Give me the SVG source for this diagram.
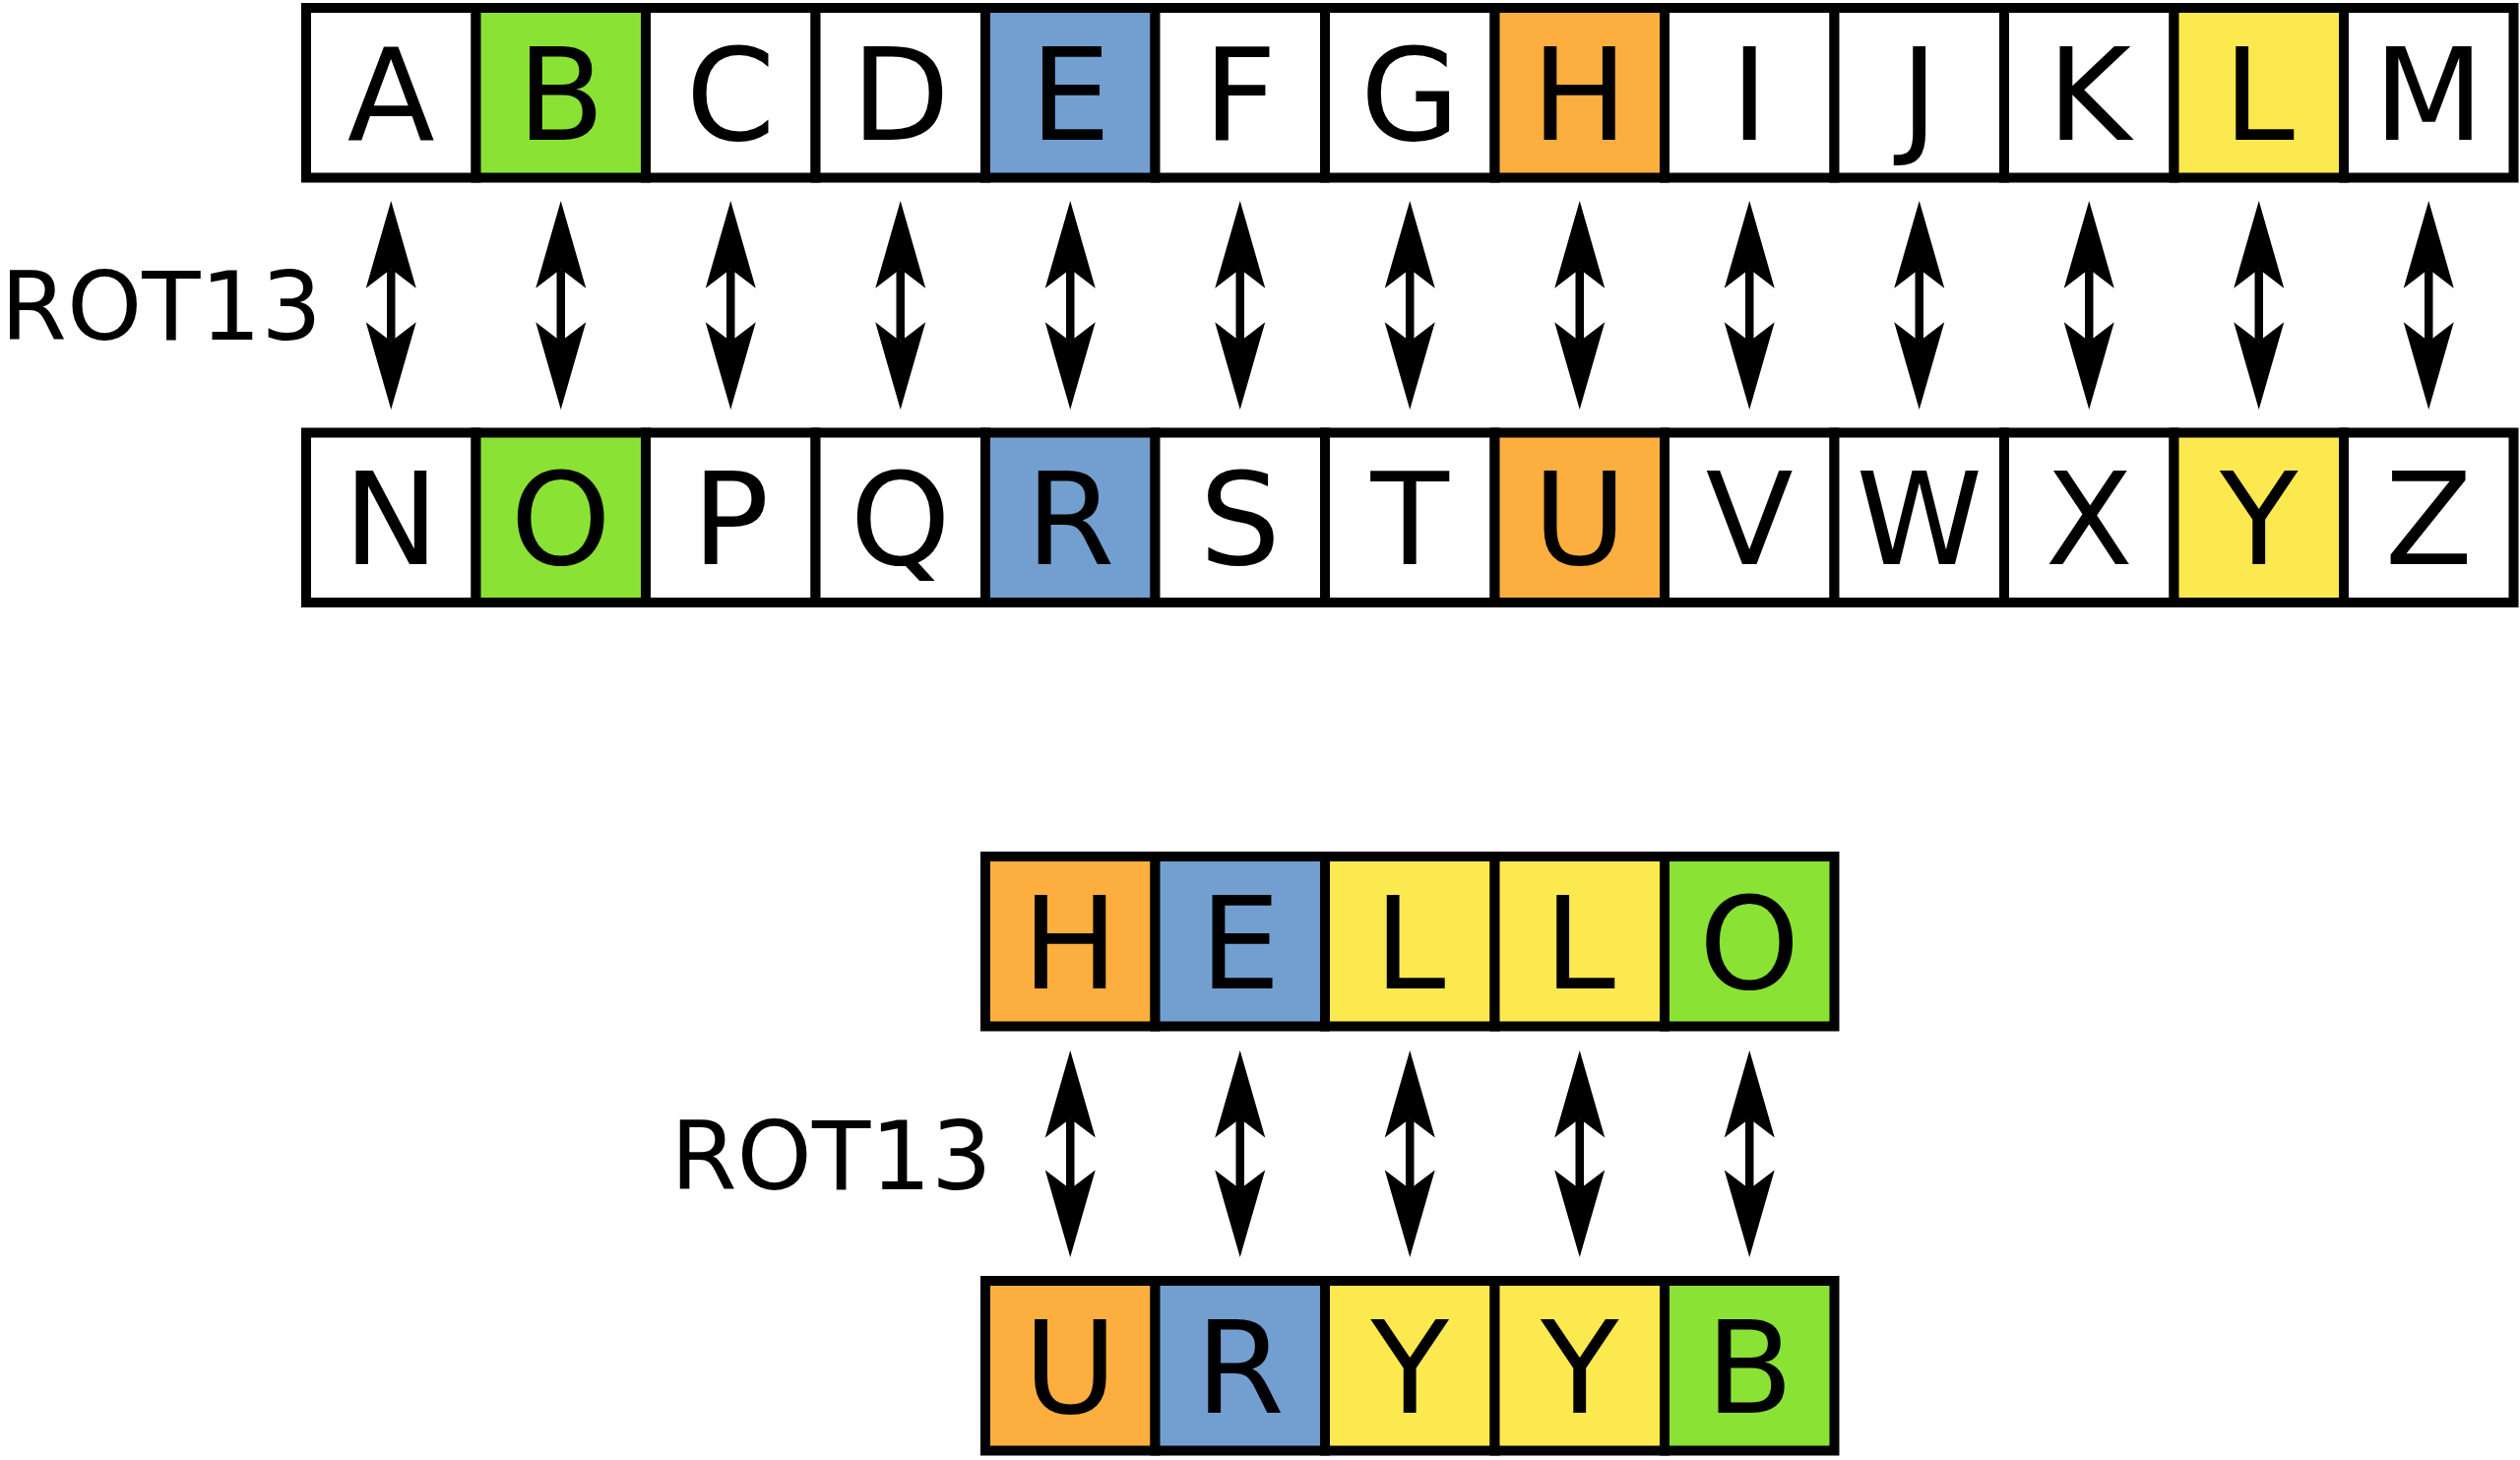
<svg xmlns="http://www.w3.org/2000/svg" width="2560" height="1483" viewBox="0 0 2560 1483">
<style>
.c{stroke:#000;stroke-width:10}
.w{fill:#fff}.g{fill:#8ae234}.b{fill:#729fcf}.o{fill:#fcaf3e}.y{fill:#fce94f}
.t{font-family:"DejaVu Sans","Liberation Sans",sans-serif;font-size:130px;text-anchor:middle;fill:#000}
.l{font-family:"DejaVu Sans","Liberation Sans",sans-serif;font-size:97px;text-anchor:start;fill:#000}
.a{stroke:#000;stroke-width:8.5;fill:none;marker-start:url(#head);marker-end:url(#head)}
</style>
<defs>
<marker id="head" markerUnits="userSpaceOnUse" viewBox="-20 -26 90 52" markerWidth="90" markerHeight="52" refX="0" refY="0" orient="auto-start-reverse" overflow="visible">
<path d="M69.3,0 L-19.4,25.5 L0,0 L-19.4,-25.5 Z" fill="#000"/>
</marker>
</defs>
<rect width="2560" height="1483" fill="#fff"/>
<g id="top-row">
<g id="cell-A"><rect class="c w" x="311" y="8" width="172.5" height="172.5"/><text class="t" x="397.25" y="141.6">A</text></g>
<g id="cell-B"><rect class="c g" x="483.5" y="8" width="172.5" height="172.5"/><text class="t" x="569.75" y="141.6">B</text></g>
<g id="cell-C"><rect class="c w" x="656" y="8" width="172.5" height="172.5"/><text class="t" x="742.25" y="141.6">C</text></g>
<g id="cell-D"><rect class="c w" x="828.5" y="8" width="172.5" height="172.5"/><text class="t" x="914.75" y="141.6">D</text></g>
<g id="cell-E"><rect class="c b" x="1001" y="8" width="172.5" height="172.5"/><text class="t" x="1087.25" y="141.6">E</text></g>
<g id="cell-F"><rect class="c w" x="1173.5" y="8" width="172.5" height="172.5"/><text class="t" x="1259.75" y="141.6">F</text></g>
<g id="cell-G"><rect class="c w" x="1346" y="8" width="172.5" height="172.5"/><text class="t" x="1432.25" y="141.6">G</text></g>
<g id="cell-H"><rect class="c o" x="1518.5" y="8" width="172.5" height="172.5"/><text class="t" x="1604.75" y="141.6">H</text></g>
<g id="cell-I"><rect class="c w" x="1691" y="8" width="172.5" height="172.5"/><text class="t" x="1777.25" y="141.6">I</text></g>
<g id="cell-J"><rect class="c w" x="1863.5" y="8" width="172.5" height="172.5"/><text class="t" x="1949.75" y="141.6">J</text></g>
<g id="cell-K"><rect class="c w" x="2036" y="8" width="172.5" height="172.5"/><text class="t" x="2122.25" y="141.6">K</text></g>
<g id="cell-L"><rect class="c y" x="2208.5" y="8" width="172.5" height="172.5"/><text class="t" x="2294.75" y="141.6">L</text></g>
<g id="cell-M"><rect class="c w" x="2381" y="8" width="172.5" height="172.5"/><text class="t" x="2467.25" y="141.6">M</text></g>
</g>
<g id="bottom-row">
<g id="cell-N"><rect class="c w" x="311" y="439.5" width="172.5" height="172.5"/><text class="t" x="397.25" y="573.2">N</text></g>
<g id="cell-O"><rect class="c g" x="483.5" y="439.5" width="172.5" height="172.5"/><text class="t" x="569.75" y="573.2">O</text></g>
<g id="cell-P"><rect class="c w" x="656" y="439.5" width="172.5" height="172.5"/><text class="t" x="742.25" y="573.2">P</text></g>
<g id="cell-Q"><rect class="c w" x="828.5" y="439.5" width="172.5" height="172.5"/><text class="t" x="914.75" y="573.2">Q</text></g>
<g id="cell-R"><rect class="c b" x="1001" y="439.5" width="172.5" height="172.5"/><text class="t" x="1087.25" y="573.2">R</text></g>
<g id="cell-S"><rect class="c w" x="1173.5" y="439.5" width="172.5" height="172.5"/><text class="t" x="1259.75" y="573.2">S</text></g>
<g id="cell-T"><rect class="c w" x="1346" y="439.5" width="172.5" height="172.5"/><text class="t" x="1432.25" y="573.2">T</text></g>
<g id="cell-U"><rect class="c o" x="1518.5" y="439.5" width="172.5" height="172.5"/><text class="t" x="1604.75" y="573.2">U</text></g>
<g id="cell-V"><rect class="c w" x="1691" y="439.5" width="172.5" height="172.5"/><text class="t" x="1777.25" y="573.2">V</text></g>
<g id="cell-W"><rect class="c w" x="1863.5" y="439.5" width="172.5" height="172.5"/><text class="t" x="1949.75" y="573.2">W</text></g>
<g id="cell-X"><rect class="c w" x="2036" y="439.5" width="172.5" height="172.5"/><text class="t" x="2122.25" y="573.2">X</text></g>
<g id="cell-Y"><rect class="c y" x="2208.5" y="439.5" width="172.5" height="172.5"/><text class="t" x="2294.75" y="573.2">Y</text></g>
<g id="cell-Z"><rect class="c w" x="2381" y="439.5" width="172.5" height="172.5"/><text class="t" x="2467.25" y="573.2">Z</text></g>
</g>
<g id="hello-row">
<g id="hello-H"><rect class="c o" x="1001" y="870" width="172.5" height="172.5"/><text class="t" x="1087.25" y="1003.6">H</text></g>
<g id="hello-E"><rect class="c b" x="1173.5" y="870" width="172.5" height="172.5"/><text class="t" x="1259.75" y="1003.6">E</text></g>
<g id="hello-L1"><rect class="c y" x="1346" y="870" width="172.5" height="172.5"/><text class="t" x="1432.25" y="1003.6">L</text></g>
<g id="hello-L2"><rect class="c y" x="1518.5" y="870" width="172.5" height="172.5"/><text class="t" x="1604.75" y="1003.6">L</text></g>
<g id="hello-O"><rect class="c g" x="1691" y="870" width="172.5" height="172.5"/><text class="t" x="1777.25" y="1003.6">O</text></g>
</g>
<g id="uryyb-row">
<g id="uryyb-U"><rect class="c o" x="1001" y="1301" width="172.5" height="172.5"/><text class="t" x="1087.25" y="1434.6">U</text></g>
<g id="uryyb-R"><rect class="c b" x="1173.5" y="1301" width="172.5" height="172.5"/><text class="t" x="1259.75" y="1434.6">R</text></g>
<g id="uryyb-Y1"><rect class="c y" x="1346" y="1301" width="172.5" height="172.5"/><text class="t" x="1432.25" y="1434.6">Y</text></g>
<g id="uryyb-Y2"><rect class="c y" x="1518.5" y="1301" width="172.5" height="172.5"/><text class="t" x="1604.75" y="1434.6">Y</text></g>
<g id="uryyb-B"><rect class="c g" x="1691" y="1301" width="172.5" height="172.5"/><text class="t" x="1777.25" y="1434.6">B</text></g>
</g>
<g id="labels">
<text id="label-rot13-top" class="l" x="0.5" y="345">ROT13</text>
<text id="label-rot13-bottom" class="l" x="681.2" y="1207.5">ROT13</text>
</g>
<g id="connectors">
<line class="a" x1="397.25" y1="273.3" x2="397.25" y2="346.7"/>
<line class="a" x1="569.75" y1="273.3" x2="569.75" y2="346.7"/>
<line class="a" x1="742.25" y1="273.3" x2="742.25" y2="346.7"/>
<line class="a" x1="914.75" y1="273.3" x2="914.75" y2="346.7"/>
<line class="a" x1="1087.25" y1="273.3" x2="1087.25" y2="346.7"/>
<line class="a" x1="1259.75" y1="273.3" x2="1259.75" y2="346.7"/>
<line class="a" x1="1432.25" y1="273.3" x2="1432.25" y2="346.7"/>
<line class="a" x1="1604.75" y1="273.3" x2="1604.75" y2="346.7"/>
<line class="a" x1="1777.25" y1="273.3" x2="1777.25" y2="346.7"/>
<line class="a" x1="1949.75" y1="273.3" x2="1949.75" y2="346.7"/>
<line class="a" x1="2122.25" y1="273.3" x2="2122.25" y2="346.7"/>
<line class="a" x1="2294.75" y1="273.3" x2="2294.75" y2="346.7"/>
<line class="a" x1="2467.25" y1="273.3" x2="2467.25" y2="346.7"/>
<line class="a" x1="1087.25" y1="1136.2" x2="1087.25" y2="1207.8"/>
<line class="a" x1="1259.75" y1="1136.2" x2="1259.75" y2="1207.8"/>
<line class="a" x1="1432.25" y1="1136.2" x2="1432.25" y2="1207.8"/>
<line class="a" x1="1604.75" y1="1136.2" x2="1604.75" y2="1207.8"/>
<line class="a" x1="1777.25" y1="1136.2" x2="1777.25" y2="1207.8"/>
</g>
</svg>
